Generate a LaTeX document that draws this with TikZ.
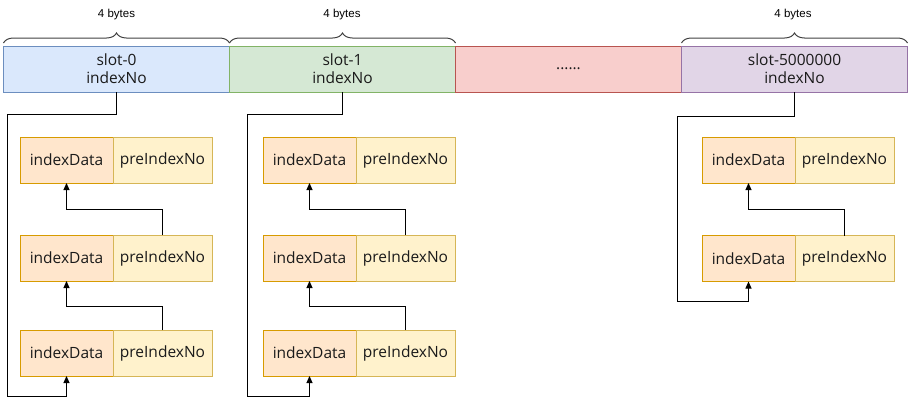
\documentclass[tikz,border=0pt]{standalone}
\usepackage{fontspec}
\setmainfont{Open Sans}
\newfontfamily\bytesfont{Liberation Sans}
\usetikzlibrary{positioning, arrows.meta, decorations.pathreplacing}
\definecolor{slotblue}{HTML}{DAE8FC}
\definecolor{slotbluedraw}{HTML}{6C8EBF}
\definecolor{slotgreen}{HTML}{D5E8D4}
\definecolor{slotgreendraw}{HTML}{82B366}
\definecolor{slotred}{HTML}{F8CECC}
\definecolor{slotreddraw}{HTML}{B85450}
\definecolor{slotpurple}{HTML}{E1D5E7}
\definecolor{slotpurpledraw}{HTML}{9673A6}
\definecolor{dataorange}{HTML}{FFE6CC}
\definecolor{dataorangedraw}{HTML}{D79B00}
\definecolor{preyellow}{HTML}{FFF2CC}
\definecolor{preyellowdraw}{HTML}{D6B656}
\definecolor{textgray}{HTML}{1A1A1A}
\begin{document}
\begin{tikzpicture}[x=1pt, y=-1pt,
  slotbox/.style={draw, line width=1pt, minimum width=226pt, minimum height=46pt,
    inner sep=0pt, outer sep=0pt, align=center, text=textgray,
    font=\fontsize{15.5}{18}\selectfont},
  databox/.style={draw=dataorangedraw, fill=dataorange, line width=1pt,
    minimum width=93pt, minimum height=46pt, inner sep=0pt, outer sep=0pt,
    text=textgray, font=\fontsize{15.5}{18}\selectfont},
  prebox/.style={databox, draw=preyellowdraw, fill=preyellow, minimum width=99pt},
  link/.style={draw=black, line width=1pt, -{Triangle[length=7pt, width=6pt]}},
  bytesbrace/.style={decorate, decoration={brace, amplitude=10pt}, line width=1pt, draw=black!75},
  byteslabel/.style={font=\bytesfont\fontsize{11.5}{13}\selectfont}
  ]
  \useasboundingbox (0,0) rectangle (908,405);

  % slot array
  \node[slotbox, draw=slotbluedraw, fill=slotblue] (slot0) at (116.5,69) {slot-0\\indexNo};
  \node[slotbox, draw=slotgreendraw, fill=slotgreen, right=0pt of slot0] (slot1) {slot-1\\indexNo};
  \node[slotbox, draw=slotreddraw, fill=slotred, right=0pt of slot1] (slotdots) {......};
  \node[slotbox, draw=slotpurpledraw, fill=slotpurple, right=0pt of slotdots] (slotlast) {slot-5000000\\indexNo};

  % 4 bytes
  \draw[bytesbrace] ([yshift=3pt]slot0.north west) -- ([yshift=3pt]slot0.north east);
  \draw[bytesbrace] ([yshift=3pt]slot1.north west) -- ([yshift=3pt]slot1.north east);
  \draw[bytesbrace] ([yshift=3pt]slotlast.north west) -- ([yshift=3pt]slotlast.north east);
  \node[byteslabel] (bytes0) at (116.5,15) {4 bytes};
  \node[byteslabel] (bytes1) at (342,15) {4 bytes};
  \node[byteslabel] (bytes2) at (793,15) {4 bytes};

  % chain of slot-0
  \node[databox] (d00) at (66.5,160) {indexData};
  \node[prebox, right=0pt of d00] (p00) {preIndexNo};
  \node[databox] (d01) at (66.5,258) {indexData};
  \node[prebox, right=0pt of d01] (p01) {preIndexNo};
  \node[databox] (d02) at (66.5,353) {indexData};
  \node[prebox, right=0pt of d02] (p02) {preIndexNo};

  % chain of slot-1
  \node[databox] (d10) at (309.5,160) {indexData};
  \node[prebox, right=0pt of d10] (p10) {preIndexNo};
  \node[databox] (d11) at (309.5,258) {indexData};
  \node[prebox, right=0pt of d11] (p11) {preIndexNo};
  \node[databox] (d12) at (309.5,353) {indexData};
  \node[prebox, right=0pt of d12] (p12) {preIndexNo};

  % chain of slot-5000000
  \node[databox] (d20) at (748.5,160) {indexData};
  \node[prebox, right=0pt of d20] (p20) {preIndexNo};
  \node[databox] (d21) at (748.5,258.5) {indexData};
  \node[prebox, right=0pt of d21] (p21) {preIndexNo};

  % slot -> newest entry
  \coordinate (c0a) at (7,114);
  \coordinate (c0b) at (7,396);
  \coordinate (c1a) at (247,114);
  \coordinate (c1b) at (247,396);
  \coordinate (c2a) at (677,116);
  \coordinate (c2b) at (677,301);
  \draw[link] (slot0.south) |- (c0a) -- (c0b) -| (d02.south);
  \draw[link] (slot1.south) |- (c1a) -- (c1b) -| (d12.south);
  \draw[link] (slotlast.south) |- (c2a) -- (c2b) -| (d21.south);

  % preIndexNo -> previous entry
  \draw[link] (p02.north) -- ++(0,-24) -| (d01.south);
  \draw[link] (p01.north) -- ++(0,-26) -| (d00.south);
  \draw[link] (p12.north) -- ++(0,-24) -| (d11.south);
  \draw[link] (p11.north) -- ++(0,-26) -| (d10.south);
  \draw[link] (p21.north) -- ++(0,-26) -| (d20.south);
\end{tikzpicture}
\end{document}
